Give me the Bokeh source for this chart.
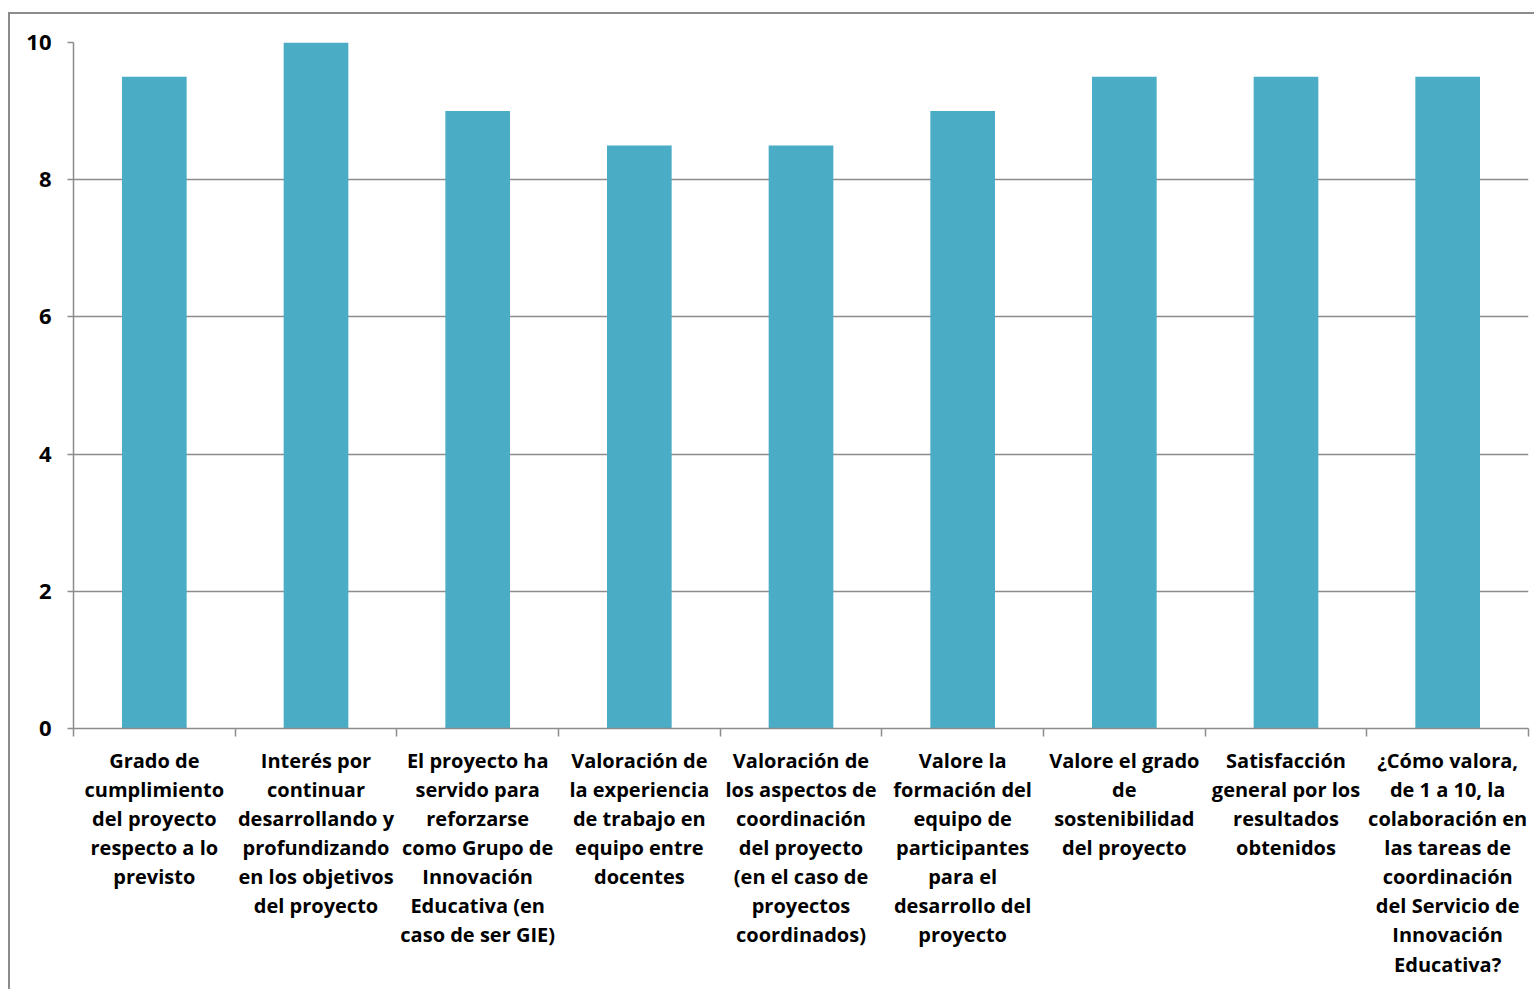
from bokeh.plotting import figure
from bokeh.models import FixedTicker, InlineStyleSheet
from bokeh.embed import file_html
from bokeh.resources import INLINE

categories = [
    "Grado de\ncumplimiento\ndel proyecto\nrespecto a lo\nprevisto",
    "Interés por\ncontinuar\ndesarrollando y\nprofundizando\nen los objetivos\ndel proyecto",
    "El proyecto ha\nservido para\nreforzarse\ncomo Grupo de\nInnovación\nEducativa (en\ncaso de ser GIE)",
    "Valoración de\nla experiencia\nde trabajo en\nequipo entre\ndocentes",
    "Valoración de\nlos aspectos de\ncoordinación\ndel proyecto\n(en el caso de\nproyectos\ncoordinados)",
    "Valore la\nformación del\nequipo de\nparticipantes\npara el\ndesarrollo del\nproyecto",
    "Valore el grado\nde\nsostenibilidad\ndel proyecto",
    "Satisfacción\ngeneral por los\nresultados\nobtenidos",
    "¿Cómo valora,\nde 1 a 10, la\ncolaboración en\nlas tareas de\ncoordinación\ndel Servicio de\nInnovación\nEducativa?",
]
values = [9.5, 10, 9, 8.5, 8.5, 9, 9.5, 9.5, 9.5]
y_ticks = [0, 2, 4, 6, 8, 10]

FONT = "Open Sans"
GRAY = "#8c8c8c"
BAR = "#4bacc6"

n = len(categories)
centers = [i + 0.5 for i in range(n)]

sheet = InlineStyleSheet(css=""":host::after {
  content: ''; position: absolute; left: 8px; top: 12px; width: 1540px; height: 1000px;
  border-left: 2px solid #8c8c8c; border-top: 2px solid #8c8c8c; pointer-events: none;
}""")

p = figure(width=1534, height=989, x_range=(0, n), y_range=(0, 10),
           output_backend="svg", toolbar_location=None,
           min_border_left=73, min_border_right=6, min_border_top=42, min_border_bottom=261,
           stylesheets=[sheet])
p.outline_line_color = None
p.background_fill_color = "white"
p.border_fill_color = "white"

p.vbar(x=centers, top=values, width=0.4, bottom=0, fill_color=BAR, line_color=None)

# x axis
p.xaxis.ticker = FixedTicker(ticks=centers, minor_ticks=list(range(n + 1)))
p.xaxis.major_label_overrides = {c: lab for c, lab in zip(centers, categories)}
p.xaxis.major_tick_out = 0
p.xaxis.major_tick_in = 0
p.xaxis.minor_tick_out = 8
p.xaxis.minor_tick_in = 0
p.xaxis.minor_tick_line_color = GRAY
p.xaxis.minor_tick_line_width = 1.5
p.xaxis.axis_line_color = GRAY
p.xaxis.axis_line_width = 1.5
p.xaxis.major_label_text_font = FONT
p.xaxis.major_label_text_font_style = "bold"
p.xaxis.major_label_text_font_size = "20px"
p.xaxis.major_label_text_color = "black"
p.xaxis.major_label_text_line_height = 1.08
p.xaxis.major_label_standoff = 10
p.xaxis.major_label_text_align = "center"

# y axis
p.yaxis.ticker = FixedTicker(ticks=y_ticks)
p.yaxis.major_tick_out = 6
p.yaxis.major_tick_in = 0
p.yaxis.minor_tick_line_color = None
p.yaxis.major_tick_line_color = GRAY
p.yaxis.major_tick_line_width = 1.5
p.yaxis.axis_line_color = GRAY
p.yaxis.axis_line_width = 1.5
p.yaxis.major_label_text_font = FONT
p.yaxis.major_label_text_font_style = "bold"
p.yaxis.major_label_text_font_size = "22px"
p.yaxis.major_label_text_color = "black"
p.yaxis.major_label_standoff = 16

p.xgrid.grid_line_color = None
p.ygrid.grid_line_color = GRAY
p.ygrid.grid_line_width = 1.5

open("out.html", "w").write(file_html(p, INLINE))
